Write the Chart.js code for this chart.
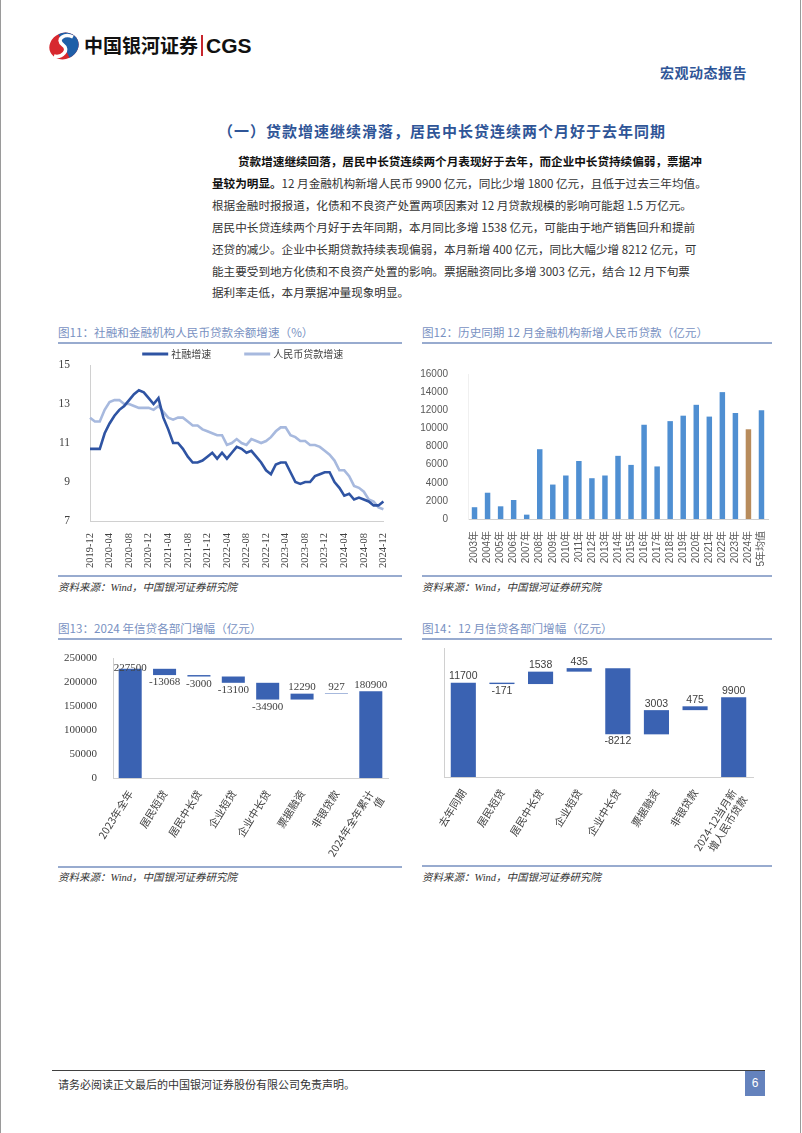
<!DOCTYPE html>
<html>
<head>
<meta charset="utf-8">
<script src="https://cdn.jsdelivr.net/npm/chart.js@4.4.1/dist/chart.umd.min.js"></script>
<style>
  body { margin: 0; background: #fff; }
  #page { position: relative; width: 802px; height: 1133px; overflow: hidden; background: #fff;
          font-family: "Noto Sans CJK SC", sans-serif; color: #262626; }
  .abs { position: absolute; }
  .edge { position: absolute; top: 0; width: 1px; height: 1133px; background: #9a9a9a; }
  .brand { left: 84px; top: 31px; font-size: 19px; font-weight: 700; color: #111; }
  .brand .bar { display: inline-block; width: 2px; height: 21px; background: #c8262d; margin: 0 3px -3px 3px; }
  .brand .cgs { font-family: "Liberation Sans", Arial, sans-serif; font-size: 21px; }
  .report { left: 660px; top: 62px; font-size: 14px; font-weight: 700; color: #2f5597; letter-spacing: 0.5px; }
  .sect { left: 218px; top: 120px; font-size: 15px; font-weight: 700; color: #2f5597; white-space: nowrap; letter-spacing: 1px; }
  .line { position: absolute; left: 212px; width: 460px; font-size: 11.6px; line-height: 16px; color: #333;
          text-align: justify; text-align-last: justify; white-space: nowrap; }
  .line.last { text-align-last: left; }
  .line b { color: #111; }
  .ctitle { font-size: 11.6px; color: #7891c2; white-space: nowrap; }
  .rule { position: absolute; height: 2px; background: #98abcf; }
  .src { font-size: 10.5px; font-style: italic; color: #333; font-family: "Liberation Serif", "Noto Sans CJK SC", serif; }
  .box { position: absolute; }
</style>
</head>
<body>
<div id="page">
  <div class="edge" style="left:0"></div>
  <div class="edge" style="left:800px"></div>

  <svg class="abs" width="36" height="30" viewBox="0 0 36 30" style="left:46px;top:31px">
    <g transform="rotate(-25 18 15)">
      <ellipse cx="18" cy="15" rx="15" ry="13" fill="#d7282f"/>
      <path d="M18 2 A15 13 0 0 1 18 28 Z" fill="#1f5fa8"/>
    </g>
    <path d="M27 6 C19 2 9 8 17 14 C24 19 16 27 8 25" stroke="#fff" stroke-width="3.5" fill="none"/>
  </svg>
  <div class="abs brand">中国银河证券<span class="bar"></span><span class="cgs">CGS</span></div>
  <div class="abs report">宏观动态报告</div>

  <div class="abs sect">（一）贷款增速继续滑落，居民中长贷连续两个月好于去年同期</div>

  <div class="line" style="top:153px;left:238px;width:434px"><b>贷款增速继续回落，居民中长贷连续两个月表现好于去年，而企业中长贷持续偏弱，票据冲</b></div>
  <div class="line" style="top:175px"><b>量较为明显。</b>12 月金融机构新增人民币 9900 亿元，同比少增 1800 亿元，且低于过去三年均值。</div>
  <div class="line" style="top:197px">根据金融时报报道，化债和不良资产处置两项因素对 12 月贷款规模的影响可能超 1.5 万亿元。</div>
  <div class="line" style="top:219px">居民中长贷连续两个月好于去年同期，本月同比多增 1538 亿元，可能由于地产销售回升和提前</div>
  <div class="line" style="top:241px">还贷的减少。企业中长期贷款持续表现偏弱，本月新增 400 亿元，同比大幅少增 8212 亿元，可</div>
  <div class="line" style="top:263px">能主要受到地方化债和不良资产处置的影响。票据融资同比多增 3003 亿元，结合 12 月下旬票</div>
  <div class="line last" style="top:284px">据利率走低，本月票据冲量现象明显。</div>

  <!-- 图11 / 图12 -->
  <div class="abs ctitle" style="left:58px;top:324px">图11：社融和金融机构人民币贷款余额增速（%）</div>
  <div class="rule" style="left:58px;top:342px;width:344px"></div>
  <div class="box" style="left:55px;top:343px;width:345px;height:230px"><canvas id="c11"></canvas></div>
  <div class="rule" style="left:58px;top:575px;width:344px;height:1.5px"></div>
  <div class="abs src" style="left:58px;top:579px">资料来源：Wind，中国银河证券研究院</div>

  <div class="abs ctitle" style="left:422px;top:324px">图12：历史同期 12 月金融机构新增人民币贷款（亿元）</div>
  <div class="rule" style="left:422px;top:342px;width:350px"></div>
  <div class="box" style="left:415px;top:343px;width:365px;height:230px"><canvas id="c12"></canvas></div>
  <div class="rule" style="left:422px;top:575px;width:350px;height:1.5px"></div>
  <div class="abs src" style="left:422px;top:579px">资料来源：Wind，中国银河证券研究院</div>

  <!-- 图13 / 图14 -->
  <div class="abs ctitle" style="left:58px;top:620px">图13：2024 年信贷各部门增幅（亿元）</div>
  <div class="rule" style="left:58px;top:638px;width:344px"></div>
  <div class="box" style="left:55px;top:642px;width:345px;height:222px"><canvas id="c13"></canvas></div>
  <div class="rule" style="left:58px;top:866px;width:344px;height:1.5px"></div>
  <div class="abs src" style="left:58px;top:869px">资料来源：Wind，中国银河证券研究院</div>

  <div class="abs ctitle" style="left:422px;top:620px">图14：12 月信贷各部门增幅（亿元）</div>
  <div class="rule" style="left:422px;top:638px;width:350px"></div>
  <div class="box" style="left:415px;top:642px;width:365px;height:222px"><canvas id="c14"></canvas></div>
  <div class="rule" style="left:422px;top:865px;width:350px;height:1.5px"></div>
  <div class="abs src" style="left:422px;top:869px">资料来源：Wind，中国银河证券研究院</div>

  <!-- footer -->
  <div class="abs" style="left:52px;top:1070px;width:713px;height:1px;background:#404040"></div>
  <div class="abs" style="left:58px;top:1076px;font-size:11px;color:#333">请务必阅读正文最后的中国银河证券股份有限公司免责声明。</div>
  <div class="abs" style="left:745px;top:1071px;width:20px;height:25px;background:#6482bd;color:#fff;font-size:12px;text-align:center;line-height:25px;font-family:'Liberation Sans',sans-serif">6</div>
</div>

<script>
// 图11 monthly labels, 2019-12 .. 2024-12
const months = ['2019-12'];
for (let y = 2020; y <= 2024; y++) {
  for (let m = 1; m <= 12; m++) months.push(y + '-' + String(m).padStart(2, '0'));
}

// 社融增速 (%)
const tsfGrowth = [
  10.7, 10.7, 10.7, 11.5, 12.0, 12.4, 12.7, 12.9, 13.2, 13.5, 13.7, 13.6, 13.3,
  13.0, 13.3, 12.3, 11.7, 11.0, 11.0, 10.7, 10.3, 10.0, 10.0, 10.1, 10.3,
  10.5, 10.2, 10.5, 10.2, 10.5, 10.8, 10.7, 10.5, 10.6, 10.3, 10.0, 9.6,
  9.4, 9.9, 10.0, 10.0, 9.5, 9.0, 8.9, 9.0, 9.0, 9.3, 9.4, 9.5,
  9.5, 9.0, 8.7, 8.3, 8.4, 8.1, 8.2, 8.1, 8.0, 7.8, 7.8, 8.0
];
// 人民币贷款增速 (%)
const loanGrowth = [
  12.3, 12.1, 12.1, 12.7, 13.1, 13.2, 13.2, 13.0, 13.0, 12.9, 12.8, 12.8, 12.8,
  12.7, 12.9, 12.6, 12.3, 12.2, 12.3, 12.3, 12.1, 11.9, 11.9, 11.7, 11.6,
  11.5, 11.4, 11.4, 10.9, 11.0, 11.2, 11.0, 10.9, 11.2, 11.1, 11.0, 11.1,
  11.3, 11.6, 11.8, 11.8, 11.4, 11.3, 11.1, 11.1, 10.9, 10.9, 10.8, 10.6,
  10.4, 10.1, 9.6, 9.6, 9.3, 8.8, 8.7, 8.5, 8.1, 8.0, 7.7, 7.6
];

// 图12
const decYears = ['2003年', '2004年', '2005年', '2006年', '2007年', '2008年', '2009年', '2010年',
  '2011年', '2012年', '2013年', '2014年', '2015年', '2016年', '2017年', '2018年', '2019年',
  '2020年', '2021年', '2022年', '2023年', '2024年', '5年均值'];
const decNewLoans = [1300, 2900, 1400, 2100, 480, 7700, 3800, 4800, 6400, 4500, 4800, 6970,
  5970, 10400, 5800, 10800, 11400, 12600, 11300, 14000, 11700, 9900, 12000];

// 图13
const yearCats = ['2023年全年', '居民短贷', '居民中长贷', '企业短贷', '企业中长贷', '票据融资', '非银贷款', ['2024年全年累计', '值']];
const yearValues = [227500, -13068, -3000, -13100, -34900, 12290, 927, 180900];

// 图14
const decCats = ['去年同期', '居民短贷', '居民中长贷', '企业短贷', '企业中长贷', '票据融资', '非银贷款', ['2024-12当月新', '增人民币贷款']];
const decValues = [11700, -171, 1538, 435, -8212, 3003, 475, 9900];

const CJK = '"Noto Sans CJK SC", sans-serif';
const SERIF = '"Liberation Serif", "Noto Sans CJK SC", serif';
const SANS = '"Liberation Sans", "Noto Sans CJK SC", sans-serif';
const axisLine = '#d0d0d0';

// first and last bars are totals, the rest float from the running sum
function waterfall(values) {
  let run = values[0];
  return values.map((v, i) => {
    if (i === 0 || i === values.length - 1) return [0, v];
    const seg = [run, run + v];
    run += v;
    return seg;
  });
}

// value labels: above positive bars, below negative ones
const barLabels = {
  id: 'barLabels',
  afterDatasetsDraw(chart, args, opts) {
    const ctx = chart.ctx;
    const meta = chart.getDatasetMeta(0);
    ctx.save();
    ctx.font = opts.font;
    ctx.fillStyle = opts.color;
    ctx.textAlign = 'center';
    meta.data.forEach((bar, i) => {
      const v = opts.values[i];
      const top = Math.min(bar.y, bar.base);
      const bottom = Math.max(bar.y, bar.base);
      if (v < 0) {
        ctx.textBaseline = 'top';
        ctx.fillText(String(v), bar.x, bottom + 2);
      } else {
        ctx.textBaseline = 'bottom';
        ctx.fillText(String(v), bar.x, top - 1 + (opts.firstShift && i === 0 ? opts.firstShift : 0));
      }
    });
    ctx.restore();
  }
};

// legend with line samples, centred above the plot
const lineLegend = {
  id: 'lineLegend',
  afterDraw(chart, args, opts) {
    const ctx = chart.ctx;
    const area = chart.chartArea;
    ctx.save();
    ctx.font = opts.font;
    ctx.textBaseline = 'middle';
    const items = chart.data.datasets.map(ds => ({ label: ds.label, color: ds.borderColor, w: ctx.measureText(ds.label).width }));
    const total = items.reduce((s, it) => s + opts.sample + opts.gap + it.w, 0) + opts.spacing * (items.length - 1);
    let x = (area.left + area.right) / 2 - total / 2 + opts.shift;
    const y = area.top - opts.offset;
    items.forEach(it => {
      ctx.strokeStyle = it.color;
      ctx.lineWidth = 3;
      ctx.beginPath();
      ctx.moveTo(x, y);
      ctx.lineTo(x + opts.sample, y);
      ctx.stroke();
      ctx.fillStyle = opts.color;
      ctx.fillText(it.label, x + opts.sample + opts.gap, y + 0.5);
      x += opts.sample + opts.gap + it.w + opts.spacing;
    });
    ctx.restore();
  }
};

Chart.defaults.animation = false;
Chart.defaults.responsive = true;
Chart.defaults.maintainAspectRatio = false;

new Chart(document.getElementById('c11'), {
  type: 'line',
  data: {
    labels: months,
    datasets: [
      { label: '社融增速', data: tsfGrowth, borderColor: '#2f54a3', backgroundColor: '#2f54a3', borderWidth: 2.6, pointRadius: 0, tension: 0 },
      { label: '人民币贷款增速', data: loanGrowth, borderColor: '#a7b9de', backgroundColor: '#a7b9de', borderWidth: 2.6, pointRadius: 0, tension: 0 }
    ]
  },
  options: {
    layout: { padding: { left: 0, right: 10, top: 22, bottom: 4 } },
    plugins: {
      legend: { display: false },
      tooltip: { enabled: false },
      lineLegend: { font: '10px ' + CJK, color: '#404040', sample: 26, gap: 3, spacing: 33, offset: 11, shift: 6 }
    },
    scales: {
      x: {
        grid: { display: false },
        border: { color: axisLine },
        ticks: {
          autoSkip: false, maxRotation: 90, minRotation: 90, padding: 4,
          color: '#404040', font: { family: SERIF, size: 10.5 },
          callback: (v, i) => (i % 4 === 0 ? months[i] : '')
        },
        afterFit: s => { s.height = 48; }
      },
      y: {
        min: 7, max: 15,
        grid: { display: false },
        border: { color: axisLine },
        ticks: { stepSize: 2, color: '#404040', padding: 12, font: { family: SERIF, size: 11.5 } },
        afterFit: s => { s.width = 35; }
      }
    }
  },
  plugins: [lineLegend]
});

new Chart(document.getElementById('c12'), {
  type: 'bar',
  data: {
    labels: decYears,
    datasets: [{
      data: decNewLoans,
      backgroundColor: decYears.map(y => (y === '2024年' ? '#b88c5c' : '#4f8fd2')),
      barPercentage: 0.42, categoryPercentage: 1
    }]
  },
  options: {
    layout: { padding: { left: 0, right: 12, top: 31, bottom: 0 } },
    plugins: { legend: { display: false }, tooltip: { enabled: false } },
    scales: {
      x: {
        grid: { display: false },
        border: { color: axisLine },
        ticks: { autoSkip: false, maxRotation: 90, minRotation: 90, padding: 4, color: '#595959', font: { family: SANS, size: 10 } },
        afterFit: s => { s.height = 54; }
      },
      y: {
        min: 0, max: 16000,
        grid: { display: false },
        border: { color: '#f0f0f0' },
        ticks: { stepSize: 2000, color: '#595959', padding: 12, font: { family: SANS, size: 10 }, callback: v => String(v) },
        afterFit: s => { s.width = 53; }
      }
    }
  }
});

new Chart(document.getElementById('c13'), {
  type: 'bar',
  data: {
    labels: yearCats,
    datasets: [{ data: waterfall(yearValues), backgroundColor: '#3a62b2', barPercentage: 0.67, categoryPercentage: 1 }]
  },
  options: {
    layout: { padding: { left: 0, right: 12, top: 16, bottom: 4 } },
    plugins: {
      legend: { display: false }, tooltip: { enabled: false },
      barLabels: { values: yearValues, font: '11px ' + SERIF, color: '#404040', firstShift: 6 }
    },
    scales: {
      x: {
        grid: { display: false },
        border: { color: axisLine },
        ticks: { autoSkip: false, maxRotation: 58, minRotation: 58, padding: 2, color: '#404040', font: { family: CJK, size: 10.5 } },
        afterFit: s => { s.height = 82; }
      },
      y: {
        min: 0, max: 250000,
        grid: { display: false },
        border: { color: axisLine },
        ticks: { stepSize: 50000, color: '#404040', padding: 8, font: { family: SERIF, size: 11 }, callback: v => String(v) },
        afterFit: s => { s.width = 58; }
      }
    }
  },
  plugins: [barLabels]
});

new Chart(document.getElementById('c14'), {
  type: 'bar',
  data: {
    labels: decCats,
    datasets: [{ data: waterfall(decValues), backgroundColor: '#3a62b2', barPercentage: 0.65, categoryPercentage: 1 }]
  },
  options: {
    layout: { padding: { left: 0, right: 27, top: 6, bottom: 4 } },
    plugins: {
      legend: { display: false }, tooltip: { enabled: false },
      barLabels: { values: decValues, font: '10.5px ' + SANS, color: '#404040' }
    },
    scales: {
      x: {
        grid: { display: false },
        border: { color: axisLine },
        ticks: { autoSkip: false, maxRotation: 58, minRotation: 58, padding: 2, color: '#404040', font: { family: CJK, size: 10.5 } },
        afterFit: s => { s.height = 83; }
      },
      y: {
        min: 0, max: 16000,
        grid: { display: false },
        border: { color: axisLine },
        ticks: { display: false },
        afterFit: s => { s.width = 29; }
      }
    }
  },
  plugins: [barLabels]
});
</script>
</body>
</html>
